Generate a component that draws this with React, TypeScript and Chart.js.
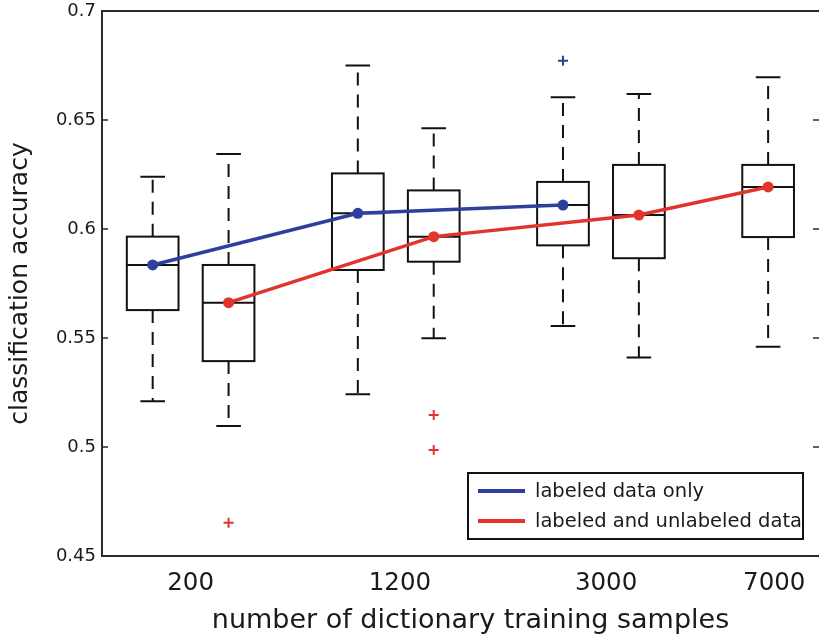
import React, { useEffect, useRef } from "react";
import { Chart, registerables } from "chart.js";

Chart.register(...registerables);

// ---- data ----
const categories = ["200", "1200", "3000", "7000"];
const categoryPositions = [1.0, 2.02, 3.025, 3.845];

const yTickValues = [0.45, 0.5, 0.55, 0.6, 0.65, 0.7];
const yTickLabels = ["0.45", "0.5", "0.55", "0.6", "0.65", "0.7"];

const xTitle = "number of dictionary training samples";
const yTitle = "classification accuracy";

const labeledName = "labeled data only";
const labeledPositions = [0.815, 1.815, 2.815];
const labeledMin = [0.521, 0.5242, 0.5555];
const labeledQ1 = [0.5628, 0.5812, 0.5925];
const labeledMedian = [0.5835, 0.6072, 0.611];
const labeledQ3 = [0.5965, 0.6255, 0.6216];
const labeledMax = [0.624, 0.675, 0.6604];
const labeledOutliers = [[], [], [0.6772]];

const mixedName = "labeled and unlabeled data";
const mixedPositions = [1.185, 2.185, 3.185, 3.815];
const mixedMin = [0.5096, 0.5499, 0.541, 0.546];
const mixedQ1 = [0.5394, 0.585, 0.5866, 0.5963];
const mixedMedian = [0.5662, 0.5965, 0.6064, 0.6193];
const mixedQ3 = [0.5835, 0.6177, 0.6294, 0.6294];
const mixedMax = [0.6344, 0.6462, 0.6619, 0.6696];
const mixedOutliers = [[0.4653], [0.5147, 0.4986], [], []];

// ---- style ----
const BLUE = "#2e3f9e";
const RED = "#e3342b";
const INK = "#111111";
const TEXT = "#1a1a1a";
const FONT = "'DejaVu Sans', 'Liberation Sans', Arial, sans-serif";
const X_MIN = 0.568;
const X_MAX = 4.063;
const BOX_HALF = 0.126;
const CAP_HALF = 0.06;

type Series = {
  pos: number[]; lo: number[]; q1: number[]; med: number[]; q3: number[]; hi: number[];
};
const seriesList: Series[] = [
  { pos: labeledPositions, lo: labeledMin, q1: labeledQ1, med: labeledMedian, q3: labeledQ3, hi: labeledMax },
  { pos: mixedPositions, lo: mixedMin, q1: mixedQ1, med: mixedMedian, q3: mixedQ3, hi: mixedMax },
];

const outlierPoints = (pos: number[], outs: number[][]) =>
  pos.flatMap((p, i) => outs[i].map((v) => ({ x: p, y: v })));

const boxPlugin = {
  id: "boxplots",
  beforeDatasetsDraw(chart: any) {
    const { ctx, scales } = chart;
    const x = scales.x;
    const y = scales.y;
    ctx.save();
    ctx.strokeStyle = INK;
    ctx.lineWidth = 2;
    for (const s of seriesList) {
      s.pos.forEach((p: number, i: number) => {
        const cx = x.getPixelForValue(p);
        const half = x.getPixelForValue(p + BOX_HALF) - cx;
        const cap = x.getPixelForValue(p + CAP_HALF) - cx;
        const yLo = y.getPixelForValue(s.lo[i]);
        const yQ1 = y.getPixelForValue(s.q1[i]);
        const yMed = y.getPixelForValue(s.med[i]);
        const yQ3 = y.getPixelForValue(s.q3[i]);
        const yHi = y.getPixelForValue(s.hi[i]);
        ctx.setLineDash([13, 9]);
        ctx.beginPath();
        ctx.moveTo(cx, yQ3);
        ctx.lineTo(cx, yHi);
        ctx.moveTo(cx, yQ1);
        ctx.lineTo(cx, yLo);
        ctx.stroke();
        ctx.setLineDash([]);
        ctx.beginPath();
        ctx.moveTo(cx - cap, yHi);
        ctx.lineTo(cx + cap, yHi);
        ctx.moveTo(cx - cap, yLo);
        ctx.lineTo(cx + cap, yLo);
        ctx.stroke();
        ctx.strokeRect(cx - half, yQ3, half * 2, yQ1 - yQ3);
        ctx.beginPath();
        ctx.moveTo(cx - half, yMed);
        ctx.lineTo(cx + half, yMed);
        ctx.stroke();
      });
    }
    ctx.restore();
  },
  afterDraw(chart: any) {
    const { ctx, chartArea, scales } = chart;
    const y = scales.y;
    const { left, right, top, bottom } = chartArea;
    ctx.save();
    // frame (right spine lies just beyond the visible edge)
    ctx.strokeStyle = "#2a2a2a";
    ctx.lineWidth = 2;
    ctx.beginPath();
    ctx.moveTo(right, top);
    ctx.lineTo(left, top);
    ctx.lineTo(left, bottom);
    ctx.lineTo(right, bottom);
    ctx.stroke();
    // inner ticks
    ctx.lineWidth = 1.6;
    ctx.beginPath();
    yTickValues.forEach((v) => {
      const py = y.getPixelForValue(v);
      ctx.moveTo(left, py);
      ctx.lineTo(left + 6, py);
      ctx.moveTo(right, py);
      ctx.lineTo(right - 6, py);
    });
    ctx.stroke();
    // x axis title
    ctx.font = `27px ${FONT}`;
    ctx.fillStyle = TEXT;
    ctx.textAlign = "center";
    ctx.textBaseline = "alphabetic";
    ctx.fillText(xTitle, (left + right) / 2 + 10, 628);
    // legend
    const lw = 335;
    const lh = 66;
    const lx = right - 16 - lw;
    const ly = bottom - 17 - lh;
    ctx.fillStyle = "#ffffff";
    ctx.fillRect(lx, ly, lw, lh);
    ctx.strokeStyle = INK;
    ctx.lineWidth = 2;
    ctx.strokeRect(lx, ly, lw, lh);
    const entries = [
      { name: labeledName, color: BLUE, dy: 18 },
      { name: mixedName, color: RED, dy: 48 },
    ];
    ctx.font = `19.5px ${FONT}`;
    ctx.textBaseline = "middle";
    ctx.textAlign = "left";
    entries.forEach((e) => {
      ctx.strokeStyle = e.color;
      ctx.lineWidth = 4;
      ctx.beginPath();
      ctx.moveTo(lx + 10, ly + e.dy);
      ctx.lineTo(lx + 57, ly + e.dy);
      ctx.stroke();
      ctx.fillStyle = TEXT;
      ctx.fillText(e.name, lx + 67, ly + e.dy + 1);
    });
    ctx.restore();
  },
};

export default function App() {
  const canvasRef = useRef<HTMLCanvasElement | null>(null);

  useEffect(() => {
    document.body.style.margin = "0";
    const canvas = canvasRef.current;
    if (!canvas) return;
    const chart = new Chart(canvas, {
      type: "line",
      data: {
        datasets: [
          {
            label: labeledName,
            data: labeledPositions.map((p, i) => ({ x: p, y: labeledMedian[i] })),
            borderColor: BLUE,
            backgroundColor: BLUE,
            borderWidth: 3.5,
            pointRadius: 5.5,
            pointBorderWidth: 0,
            pointBackgroundColor: BLUE,
            tension: 0,
          },
          {
            label: mixedName,
            data: mixedPositions.map((p, i) => ({ x: p, y: mixedMedian[i] })),
            borderColor: RED,
            backgroundColor: RED,
            borderWidth: 3.5,
            pointRadius: 5.5,
            pointBorderWidth: 0,
            pointBackgroundColor: RED,
            tension: 0,
          },
          {
            type: "scatter",
            label: "labeled outliers",
            data: outlierPoints(labeledPositions, labeledOutliers),
            pointStyle: "cross",
            pointRadius: 5,
            borderColor: BLUE,
            borderWidth: 2,
            showLine: false,
          } as any,
          {
            type: "scatter",
            label: "mixed outliers",
            data: outlierPoints(mixedPositions, mixedOutliers),
            pointStyle: "cross",
            pointRadius: 5,
            borderColor: RED,
            borderWidth: 2,
            showLine: false,
          } as any,
        ],
      },
      options: {
        responsive: false,
        animation: false,
        layout: { padding: { top: 11, right: 3, left: 0, bottom: 0 } },
        plugins: { legend: { display: false }, tooltip: { enabled: false } },
        scales: {
          x: {
            type: "linear",
            min: X_MIN,
            max: X_MAX,
            afterBuildTicks: (s: any) => {
              s.ticks = categoryPositions.map((v) => ({ value: v }));
            },
            afterFit: (s: any) => {
              s.height = 84;
              s.paddingLeft = 0;
              s.paddingRight = 0;
            },
            ticks: {
              callback: (_v: any, i: number) => categories[i],
              font: { family: FONT, size: 24.5 },
              color: TEXT,
              padding: 13,
              maxRotation: 0,
              autoSkip: false,
            },
            grid: { display: false, drawTicks: false },
            border: { display: false },
            title: { display: false },
          },
          y: {
            type: "linear",
            min: 0.45,
            max: 0.7,
            afterBuildTicks: (s: any) => {
              s.ticks = yTickValues.map((v) => ({ value: v }));
            },
            afterFit: (s: any) => {
              s.width = 102;
              s.paddingTop = 0;
              s.paddingBottom = 0;
            },
            ticks: {
              callback: (_v: any, i: number) => yTickLabels[i],
              font: { family: FONT, size: 18 },
              color: TEXT,
              padding: 6,
              autoSkip: false,
            },
            grid: { display: false, drawTicks: false },
            border: { display: false },
            title: {
              display: true,
              text: yTitle,
              font: { family: FONT, size: 25 },
              color: TEXT,
              padding: { top: 5, bottom: 0 },
            },
          },
        },
      },
      plugins: [boxPlugin],
    });
    return () => chart.destroy();
  }, []);

  return (
    <div style={{ width: 820, height: 640, overflow: "hidden" }}>
      <canvas ref={canvasRef} width={826} height={640} style={{ display: "block" }} />
    </div>
  );
}
